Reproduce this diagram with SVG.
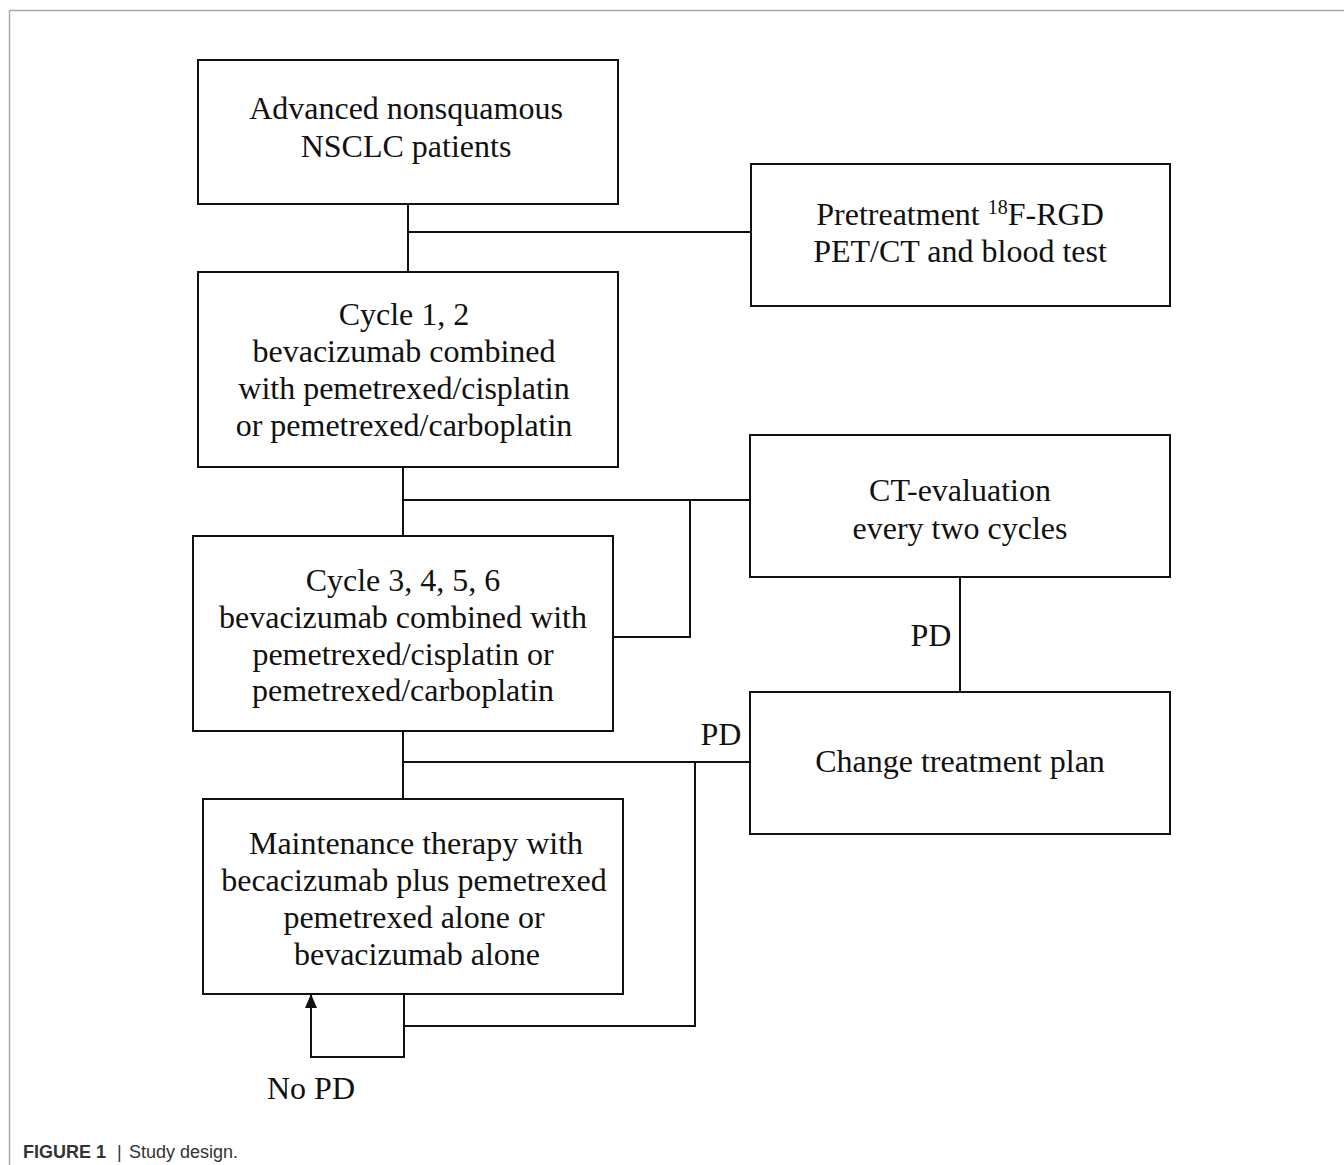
<svg xmlns="http://www.w3.org/2000/svg" width="1344" height="1165" viewBox="0 0 1344 1165">
<style>
.box{fill:#fff;stroke:#111;stroke-width:2}
.ln{fill:none;stroke:#111;stroke-width:2}
.t{font-family:"Liberation Serif","Times New Roman",serif;font-size:32px;fill:#111;text-anchor:middle}
.cap{font-family:"Liberation Sans",Arial,sans-serif;font-size:18px;fill:#333}
</style>
<defs>
<marker id="arr" markerWidth="14" markerHeight="12" refX="13" refY="6" orient="auto" markerUnits="userSpaceOnUse" viewBox="0 0 14 12">
<path d="M0,0 L14,6 L0,12 Z" fill="#111"/>
</marker>
</defs>
<rect width="1344" height="1165" fill="#fff"/>
<g id="frame">
<line x1="9.5" y1="10.5" x2="1344" y2="10.5" stroke="#aaa" stroke-width="1.5"/>
<line x1="9.5" y1="10.5" x2="9.5" y2="1165" stroke="#aaa" stroke-width="1.5"/>
</g>
<g id="connectors">
<line class="ln" x1="408" y1="204" x2="408" y2="272"/>
<line class="ln" x1="408" y1="232" x2="750" y2="232"/>
<line class="ln" x1="403" y1="467" x2="403" y2="536"/>
<line class="ln" x1="403" y1="500" x2="750" y2="500"/>
<polyline class="ln" points="690,500 690,637 613,637"/>
<line class="ln" x1="960" y1="577" x2="960" y2="692"/>
<line class="ln" x1="403" y1="731" x2="403" y2="799"/>
<line class="ln" x1="403" y1="762" x2="753" y2="762"/>
<polyline class="ln" points="695,762 695,1026 404,1026"/>
<polyline class="ln" points="404,994 404,1057 311,1057 311,995" marker-end="url(#arr)"/>
</g>
<g id="n1">
<rect class="box" x="198" y="60" width="420" height="144"/>
<text class="t" x="406" y="119">Advanced nonsquamous</text>
<text class="t" x="406" y="157">NSCLC patients</text>
</g>
<g id="n2">
<rect class="box" x="751" y="164" width="419" height="142"/>
<text class="t" x="960" y="225">Pretreatment <tspan font-size="20" dy="-11">18</tspan><tspan dy="11">F-RGD</tspan></text>
<text class="t" x="960" y="262">PET/CT and blood test</text>
</g>
<g id="n3">
<rect class="box" x="198" y="272" width="420" height="195"/>
<text class="t" x="404" y="325">Cycle 1, 2</text>
<text class="t" x="404" y="362">bevacizumab combined</text>
<text class="t" x="404" y="399">with pemetrexed/cisplatin</text>
<text class="t" x="404" y="436">or pemetrexed/carboplatin</text>
</g>
<g id="n4">
<rect class="box" x="750" y="435" width="420" height="142"/>
<text class="t" x="960" y="501">CT-evaluation</text>
<text class="t" x="960" y="539">every two cycles</text>
</g>
<g id="n5">
<rect class="box" x="193" y="536" width="420" height="195"/>
<text class="t" x="403" y="591">Cycle 3, 4, 5, 6</text>
<text class="t" x="403" y="628">bevacizumab combined with</text>
<text class="t" x="403" y="665">pemetrexed/cisplatin or</text>
<text class="t" x="403" y="701">pemetrexed/carboplatin</text>
</g>
<g id="n6">
<rect class="box" x="750" y="692" width="420" height="142"/>
<text class="t" x="960" y="772">Change treatment plan</text>
</g>
<g id="n7">
<rect class="box" x="203" y="799" width="420" height="195"/>
<text class="t" x="416" y="854">Maintenance therapy with</text>
<text class="t" x="414" y="891">becacizumab plus pemetrexed</text>
<text class="t" x="414" y="928">pemetrexed alone or</text>
<text class="t" x="417" y="965">bevacizumab alone</text>
</g>
<g id="labels">
<text class="t" x="931" y="646">PD</text>
<text class="t" x="721" y="745">PD</text>
<text class="t" x="311" y="1099">No PD</text>
</g>
<g id="caption">
<text class="cap" x="23" y="1158" font-weight="bold" fill="#222">FIGURE 1</text>
<text class="cap" x="117" y="1158" fill="#888">|</text>
<text class="cap" x="129" y="1158" fill="#444">Study design.</text>
</g>
</svg>
